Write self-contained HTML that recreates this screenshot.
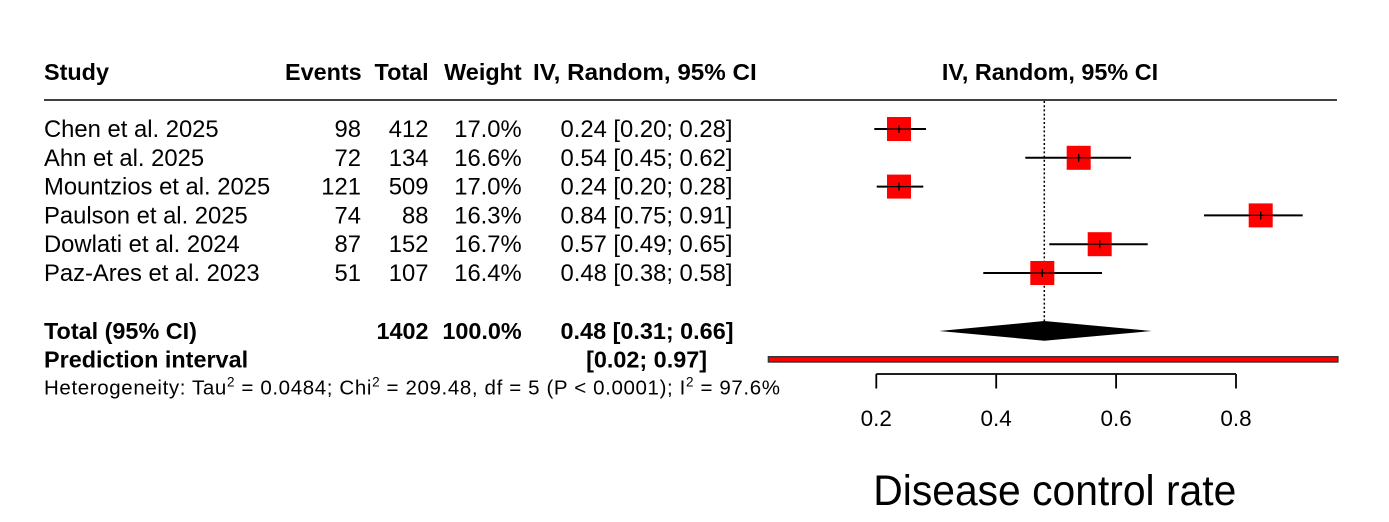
<!DOCTYPE html>
<html>
<head>
<meta charset="utf-8">
<style>
  html, body { margin: 0; padding: 0; background: #ffffff; }
  svg { display: block; }
  text { font-family: "Liberation Sans", Arial, sans-serif; fill: #000; }
  .b { font-weight: bold; }
</style>
</head>
<body>
<svg width="1389" height="522" viewBox="0 0 1389 522" xmlns="http://www.w3.org/2000/svg">
  <rect x="0" y="0" width="1389" height="522" fill="#ffffff"/>

  <!-- Header -->
  <g font-size="23.4" class="b">
    <text x="44" y="80" class="b">Study</text>
    <text x="361.7" y="80" text-anchor="end" class="b">Events</text>
    <text x="428.7" y="80" text-anchor="end" class="b">Total</text>
    <text x="521.7" y="80" text-anchor="end" class="b">Weight</text>
    <text x="756.7" y="80" text-anchor="end" class="b" textLength="223.7" lengthAdjust="spacingAndGlyphs">IV, Random, 95% CI</text>
    <text x="1050" y="80" text-anchor="middle" class="b">IV, Random, 95% CI</text>
  </g>
  <line x1="44" y1="100" x2="1337" y2="100" stroke="#000" stroke-width="1.6"/>

  <!-- Study rows -->
  <g font-size="23.8">
    <text x="44" y="137">Chen et al. 2025</text>
    <text x="361" y="137" text-anchor="end">98</text>
    <text x="428.5" y="137" text-anchor="end">412</text>
    <text x="521.7" y="137" text-anchor="end">17.0%</text>
    <text x="732.5" y="137" text-anchor="end">0.24 [0.20; 0.28]</text>

    <text x="44" y="165.8">Ahn et al. 2025</text>
    <text x="361" y="165.8" text-anchor="end">72</text>
    <text x="428.5" y="165.8" text-anchor="end">134</text>
    <text x="521.7" y="165.8" text-anchor="end">16.6%</text>
    <text x="732.5" y="165.8" text-anchor="end">0.54 [0.45; 0.62]</text>

    <text x="44" y="194.6">Mountzios et al. 2025</text>
    <text x="361" y="194.6" text-anchor="end">121</text>
    <text x="428.5" y="194.6" text-anchor="end">509</text>
    <text x="521.7" y="194.6" text-anchor="end">17.0%</text>
    <text x="732.5" y="194.6" text-anchor="end">0.24 [0.20; 0.28]</text>

    <text x="44" y="223.4">Paulson et al. 2025</text>
    <text x="361" y="223.4" text-anchor="end">74</text>
    <text x="428.5" y="223.4" text-anchor="end">88</text>
    <text x="521.7" y="223.4" text-anchor="end">16.3%</text>
    <text x="732.5" y="223.4" text-anchor="end">0.84 [0.75; 0.91]</text>

    <text x="44" y="252.2">Dowlati et al. 2024</text>
    <text x="361" y="252.2" text-anchor="end">87</text>
    <text x="428.5" y="252.2" text-anchor="end">152</text>
    <text x="521.7" y="252.2" text-anchor="end">16.7%</text>
    <text x="732.5" y="252.2" text-anchor="end">0.57 [0.49; 0.65]</text>

    <text x="44" y="281">Paz-Ares et al. 2023</text>
    <text x="361" y="281" text-anchor="end">51</text>
    <text x="428.5" y="281" text-anchor="end">107</text>
    <text x="521.7" y="281" text-anchor="end">16.4%</text>
    <text x="732.5" y="281" text-anchor="end">0.48 [0.38; 0.58]</text>
  </g>

  <!-- Total / prediction -->
  <g font-size="23.4">
    <text x="44" y="339" class="b">Total (95% CI)</text>
    <text x="428.5" y="339" text-anchor="end" class="b">1402</text>
    <text x="521.7" y="339" text-anchor="end" class="b">100.0%</text>
    <text x="733.5" y="339" text-anchor="end" class="b">0.48 [0.31; 0.66]</text>
    <text x="44" y="367.5" class="b">Prediction interval</text>
    <text x="707" y="367.5" text-anchor="end" class="b">[0.02; 0.97]</text>
  </g>

  <!-- Heterogeneity -->
  <text x="44" y="394.5" font-size="20.5" textLength="736" lengthAdjust="spacing">Heterogeneity: Tau<tspan font-size="13.5" dy="-8">2</tspan><tspan dy="8"> = 0.0484; Chi</tspan><tspan font-size="13.5" dy="-8">2</tspan><tspan dy="8"> = 209.48, df = 5 (P &lt; 0.0001); I</tspan><tspan font-size="13.5" dy="-8">2</tspan><tspan dy="8"> = 97.6%</tspan></text>

  <!-- Dotted reference line -->
  <line x1="1044.3" y1="101" x2="1044.3" y2="322" stroke="#000" stroke-width="1.5" stroke-dasharray="2 2.2"/>

  <!-- Study CIs and squares -->
  <g stroke="#000" stroke-width="2">
    <line x1="874.3" y1="129" x2="926" y2="129"/>
    <line x1="1025.3" y1="157.8" x2="1131" y2="157.8"/>
    <line x1="876.7" y1="186.6" x2="923.3" y2="186.6"/>
    <line x1="1204" y1="215.4" x2="1302.7" y2="215.4"/>
    <line x1="1049.3" y1="244.2" x2="1147.7" y2="244.2"/>
    <line x1="983.3" y1="273" x2="1102" y2="273"/>
  </g>
  <g fill="#ff0000">
    <rect x="887" y="117" width="24" height="24"/>
    <rect x="1066.7" y="145.8" width="24" height="24"/>
    <rect x="887" y="174.6" width="24" height="24"/>
    <rect x="1248.7" y="203.4" width="24" height="24"/>
    <rect x="1087.7" y="232.2" width="24" height="24"/>
    <rect x="1030.3" y="261" width="24" height="24"/>
  </g>
  <g stroke="#000" stroke-width="2">
    <line x1="887" y1="129" x2="911" y2="129" stroke-width="1.2"/>
    <line x1="899" y1="125" x2="899" y2="133" stroke-width="1.4"/>

    <line x1="1066.7" y1="157.8" x2="1090.7" y2="157.8" stroke-width="1.2"/>
    <line x1="1078.7" y1="153.8" x2="1078.7" y2="161.8" stroke-width="1.4"/>

    <line x1="887" y1="186.6" x2="911" y2="186.6" stroke-width="1.2"/>
    <line x1="899" y1="182.6" x2="899" y2="190.6" stroke-width="1.4"/>

    <line x1="1248.7" y1="215.4" x2="1272.7" y2="215.4" stroke-width="1.2"/>
    <line x1="1260.7" y1="211.4" x2="1260.7" y2="219.4" stroke-width="1.4"/>

    <line x1="1087.7" y1="244.2" x2="1111.7" y2="244.2" stroke-width="1.2"/>
    <line x1="1099.7" y1="240.2" x2="1099.7" y2="248.2" stroke-width="1.4"/>

    <line x1="1030.3" y1="273" x2="1054.3" y2="273" stroke-width="1.2"/>
    <line x1="1042.3" y1="269" x2="1042.3" y2="277" stroke-width="1.4"/>
  </g>

  <!-- Summary diamond -->
  <polygon points="939.3,331 1044.3,321 1151.7,331 1044.3,340.7" fill="#000"/>

  <!-- Prediction interval bar -->
  <rect x="768.4" y="356.7" width="569.5" height="5.3" fill="#ff0000" stroke="#333" stroke-width="1.4"/>

  <!-- Axis -->
  <g stroke="#000" stroke-width="1.8" fill="none">
    <line x1="876.3" y1="374" x2="1236" y2="374"/>
    <line x1="876.3" y1="374" x2="876.3" y2="388.5"/>
    <line x1="996.2" y1="374" x2="996.2" y2="388.5"/>
    <line x1="1116.1" y1="374" x2="1116.1" y2="388.5"/>
    <line x1="1236" y1="374" x2="1236" y2="388.5"/>
  </g>
  <g font-size="22.5" text-anchor="middle">
    <text x="876.3" y="426">0.2</text>
    <text x="996.2" y="426">0.4</text>
    <text x="1116.1" y="426">0.6</text>
    <text x="1236" y="426">0.8</text>
  </g>

  <!-- X label -->
  <text x="873.3" y="505" font-size="43" textLength="363" lengthAdjust="spacingAndGlyphs" fill="#1a1a1a">Disease control rate</text>
</svg>
</body>
</html>
